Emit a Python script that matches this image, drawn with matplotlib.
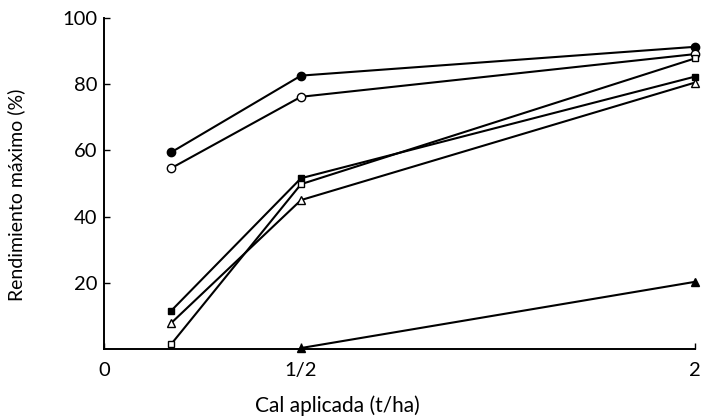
"""Rendimiento máximo frente a cal aplicada."""

import matplotlib
import numpy as np

matplotlib.use("Agg")
import matplotlib.pyplot as plt

# cal aplicada (t/ha) for each series point
dose_all = [0.17, 0.5, 2.0]
dose_late = [0.5, 2.0]

filled_circle = [59.4, 82.6, 91.3]
open_circle = [54.6, 76.2, 89.1]
filled_square = [11.5, 51.6, 82.3]
open_triangle = [7.8, 45.0, 80.5]
open_square = [1.4, 49.8, 87.8]
filled_triangle = [0.3, 20.3]

x_ticks = [0, 0.5, 2]
x_tick_labels = ["0", "1/2", "2"]
y_ticks = [20, 40, 60, 80, 100]


# the printed axis is compressed above 1/2: 1/2 -> 2 takes twice the 0 -> 1/2 width
def _forward(x):
    x = np.asarray(x, dtype=float)
    return np.where(x <= 0.5, x, 0.5 + (x - 0.5) * 2.0 / 3.0)


def _inverse(p):
    p = np.asarray(p, dtype=float)
    return np.where(p <= 0.5, p, 0.5 + (p - 0.5) * 1.5)


plt.rcParams["font.family"] = ["Lato", "DejaVu Sans"]

figure = plt.figure(figsize=(7.11, 4.19), dpi=100)
axis = figure.add_axes([0.1463, 0.167, 0.8312, 0.79])
axis.set_xscale("function", functions=(_forward, _inverse))

line_style = dict(color="black", linewidth=1.5, clip_on=False, zorder=3)
axis.plot(dose_all, filled_circle, marker="o", markersize=6, markerfacecolor="black", **line_style)
axis.plot(dose_all, open_circle, marker="o", markersize=6, markerfacecolor="white", **line_style)
axis.plot(dose_all, filled_square, marker="s", markersize=5, markerfacecolor="black", **line_style)
axis.plot(dose_all, open_triangle, marker="^", markersize=6, markerfacecolor="white", **line_style)
axis.plot(dose_all, open_square, marker="s", markersize=5, markerfacecolor="white", **line_style)
axis.plot(dose_late, filled_triangle, marker="^", markersize=6, markerfacecolor="black", **line_style)

axis.set_xlim(0, 2)
axis.set_ylim(0, 100)
axis.set_xticks(x_ticks, x_tick_labels)
axis.set_yticks(y_ticks)
axis.minorticks_off()
axis.tick_params(axis="both", direction="in", length=4, width=1.0, labelsize=14.5)
axis.tick_params(axis="y", pad=5)
axis.tick_params(axis="x", pad=9)
axis.spines[["top", "right"]].set_visible(False)
axis.spines[["left", "bottom"]].set_linewidth(1.4)

axis.set_ylabel("Rendimiento máximo (%)", fontsize=14)
axis.yaxis.set_label_coords(-0.134, 0.465)
axis.set_xlabel("Cal aplicada (t/ha)", fontsize=15)
axis.xaxis.set_label_coords((337 - 104) / 591, -0.14)

figure.savefig("out.png", dpi=100, facecolor="white")
